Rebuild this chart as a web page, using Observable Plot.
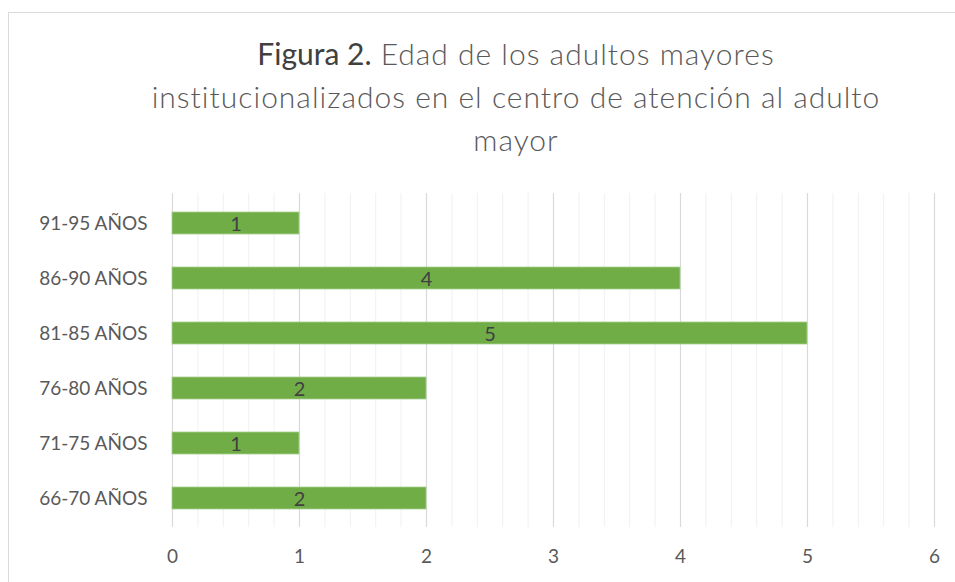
<!DOCTYPE html>
<html>
<head>
<meta charset="utf-8">
<script src="https://cdn.jsdelivr.net/npm/d3@7"></script>
<script src="https://cdn.jsdelivr.net/npm/@observablehq/plot@0.6"></script>
<style>
  html, body { margin: 0; padding: 0; background: #fff; width: 955px; height: 582px; overflow: hidden; }
  #frame { position: absolute; left: 8px; top: 12px; width: 1016px; height: 700px; border: 1px solid #d9d9d9; box-sizing: border-box; }
  #title { position: absolute; left: 8px; top: 32px; width: 1016px; text-align: center;
           font-family: Lato, "Open Sans", sans-serif; font-weight: 300; font-size: 30px; letter-spacing: 1px; line-height: 43px; color: #595959; }
  #title b { font-weight: 400; color: #404040; letter-spacing: 0; }
  #chart { position: absolute; left: 0; top: 0; }
</style>
</head>
<body>
<div id="frame"></div>
<div id="title"><b>Figura 2.</b> Edad de los adultos mayores<br>institucionalizados en el centro de atención al adulto<br>mayor</div>
<div id="chart"></div>
<script>
const categories = ["91-95 AÑOS", "86-90 AÑOS", "81-85 AÑOS", "76-80 AÑOS", "71-75 AÑOS", "66-70 AÑOS"];
const values = [1, 4, 5, 2, 1, 2];
const majorTicks = [0, 1, 2, 3, 4, 5, 6];
const minorTicks = d3.range(0, 6.0001, 0.2).filter(v => Math.abs(v - Math.round(v)) > 1e-6);

const data = categories.map((c, i) => ({cat: c, value: values[i]}));

const chart = Plot.plot({
  width: 955,
  height: 582,
  marginLeft: 172,
  marginRight: 21,
  marginTop: 193,
  marginBottom: 55,
  style: {fontFamily: "Lato, 'Open Sans', sans-serif", fontSize: "19px", color: "#595959", background: "transparent"},
  x: {domain: [0, 6], ticks: majorTicks, tickFormat: d3.format("d"), tickSize: 0, tickPadding: 22, label: null},
  y: {domain: categories, paddingInner: 0.6, paddingOuter: 0.3, tickSize: 0, tickPadding: 25, label: null},
  marks: [
    Plot.ruleX(minorTicks, {stroke: "#f0f0f0", strokeWidth: 1}),
    Plot.ruleX(majorTicks, {stroke: "#d9d9d9", strokeWidth: 1.2}),
    Plot.barX(data, {x: "value", y: "cat", fill: "#70ad47", stroke: "#a9d08e", strokeWidth: 0.8}),
    Plot.text(data, {x: d => d.value / 2, y: "cat", text: d => String(d.value), fill: "#404040", fontSize: 20, dy: 1})
  ]
});
document.getElementById("chart").appendChild(chart);
</script>
</body>
</html>
